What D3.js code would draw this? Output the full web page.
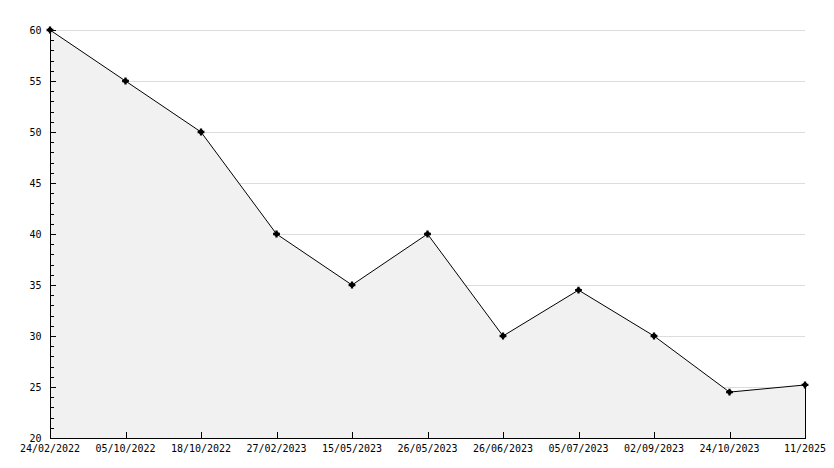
<!DOCTYPE html>
<html><head><meta charset="utf-8">
<script src="https://cdn.jsdelivr.net/npm/d3@7"></script>
<style>body{margin:0;background:#fff}svg{display:block}text{font-family:"DejaVu Sans Mono",monospace;font-size:10px;fill:#000}</style>
</head><body>
<script>
const categories = ["24/02/2022","05/10/2022","18/10/2022","27/02/2023","15/05/2023","26/05/2023","26/06/2023","05/07/2023","02/09/2023","24/10/2023","11/2025"];
const values = [60,55,50,40,35,40,30,34.5,30,24.5,25.2];
const yTicks = [20,25,30,35,40,45,50,55,60];

const W=834,H=468, L=50, R=805, T=30, B=438;
const svg=d3.select("body").append("svg").attr("width",W).attr("height",H);
const x=d3.scalePoint().domain(categories).range([L,R]);
const y=d3.scaleLinear().domain([20,60]).range([B,T]);

// grid
svg.append("g").selectAll("line").data(yTicks.filter(d=>d>20)).join("line")
  .attr("x1",L).attr("x2",R).attr("y1",d=>y(d)+0.5).attr("y2",d=>y(d)+0.5)
  .attr("stroke","#dcdcdc").attr("shape-rendering","crispEdges");

const data=categories.map((c,i)=>({c,v:values[i]}));
// area
svg.append("path").datum(data)
  .attr("d",d3.area().x(d=>x(d.c)).y0(B).y1(d=>y(d.v)))
  .attr("fill","#f1f1f1");
// right edge line
svg.append("line").attr("x1",R+0.5).attr("x2",R+0.5).attr("y1",y(values[values.length-1])).attr("y2",B)
  .attr("stroke","#000").attr("shape-rendering","crispEdges");
// line
svg.append("path").datum(data)
  .attr("d",d3.line().x(d=>x(d.c)).y(d=>y(d.v)))
  .attr("fill","none").attr("stroke","#000").attr("stroke-width",1);

// y axis
const ya=svg.append("g").attr("transform",`translate(${L+0.5},0)`);
ya.append("line").attr("y1",T).attr("y2",B).attr("stroke","#000").attr("shape-rendering","crispEdges");
const minor=d3.range(20,61,1).filter(d=>d%5!==0);
ya.selectAll(".mi").data(minor).join("line").attr("class","mi")
  .attr("x1",0).attr("x2",3).attr("y1",d=>Math.round(y(d))+0.5).attr("y2",d=>Math.round(y(d))+0.5)
  .attr("stroke","#000").attr("shape-rendering","crispEdges");
ya.selectAll(".ma").data(yTicks).join("line").attr("class","ma")
  .attr("x1",0).attr("x2",5).attr("y1",d=>Math.round(y(d))+0.5).attr("y2",d=>Math.round(y(d))+0.5)
  .attr("stroke","#000").attr("shape-rendering","crispEdges");
ya.selectAll("text").data(yTicks).join("text")
  .attr("x",-9).attr("y",d=>y(d)).attr("dy","0.35em").attr("text-anchor","end").text(d=>d);

// x axis
const xa=svg.append("g");
xa.append("line").attr("x1",L).attr("x2",R+1).attr("y1",B+0.5).attr("y2",B+0.5).attr("stroke","#000").attr("shape-rendering","crispEdges");
xa.selectAll(".t").data(categories).join("line").attr("class","t")
  .attr("x1",d=>Math.round(x(d))+0.5).attr("x2",d=>Math.round(x(d))+0.5).attr("y1",B).attr("y2",B-6)
  .attr("stroke","#000").attr("shape-rendering","crispEdges");
xa.selectAll("text").data(categories).join("text")
  .attr("x",d=>x(d)).attr("y",B+14).attr("text-anchor","middle").text(d=>d);

// markers
const mk=svg.append("g").selectAll("g").data(data).join("g")
  .attr("transform",d=>`translate(${x(d.c)},${y(d.v)})`);
mk.append("path").attr("d",d3.symbol().type(d3.symbolCircle).size(18)).attr("fill","#000");
mk.append("path").attr("d",d3.symbol().type(d3.symbolCross).size(26)).attr("fill","#000");
</script>
</body></html>
